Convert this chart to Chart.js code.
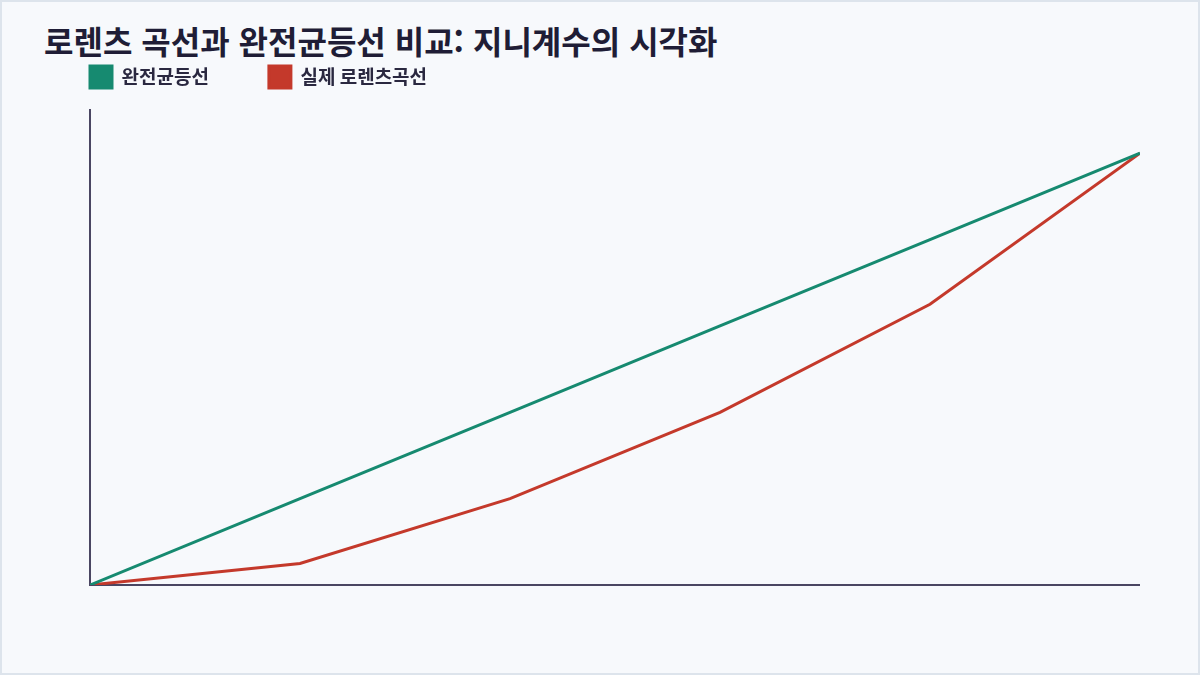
<!DOCTYPE html>
<html lang="ko">
<head>
<meta charset="utf-8">
<script src="https://cdn.jsdelivr.net/npm/chart.js@4/dist/chart.umd.min.js"></script>
<style>
  html, body { margin: 0; padding: 0; }
  body { position: relative; width: 1200px; height: 675px; overflow: hidden; font-family: "Noto Sans CJK KR", "Noto Sans", sans-serif; }
  .frame {
    position: absolute; left: 0; top: 0; width: 1200px; height: 675px; box-sizing: border-box;
    border: 2px solid #dde4ec; background: #f7f9fc;
  }
  h1 {
    position: absolute; left: 44px; top: 21px; margin: 0;
    font-size: 32px; font-weight: 700; color: #1f1d36; line-height: 1.2;
  }
  .chart-box { position: absolute; left: 30px; top: 6px; width: 1110px; height: 589px; }
</style>
</head>
<body>
<div class="frame"></div>
<h1>로렌츠 곡선과 완전균등선 비교: 지니계수의 시각화</h1>
<div class="chart-box"><canvas id="lorenzChart"></canvas></div>
<script>
// Cumulative population share (%)
const populationShare = [0, 20, 40, 60, 80, 100];
// Perfect equality line
const equalityShare = [0, 20, 40, 60, 80, 100];
// Actual Lorenz curve, cumulative income share (%)
const lorenzShare = [0, 5, 20, 40, 65, 100];

const seriesLabels = ['완전균등선', '실제 로렌츠곡선'];
const AXIS_COLOR = '#4a4662';

function toPoints(values) {
    return populationShare.map((x, i) => ({ x: x, y: values[i] }));
}

// Push the plot area a bit further below the legend
const legendGap = {
    id: 'legendGap',
    beforeInit(chart) {
        const fit = chart.legend.fit;
        chart.legend.fit = function () {
            fit.call(this);
            this.height += 12;
        };
    }
};

const ctx = document.getElementById('lorenzChart').getContext('2d');
new Chart(ctx, {
    type: 'line',
    data: {
        datasets: [
            {
                label: seriesLabels[0],
                data: toPoints(equalityShare),
                borderColor: '#168a70',
                backgroundColor: '#168a70',
                borderWidth: 3,
                pointRadius: 0,
                tension: 0
            },
            {
                label: seriesLabels[1],
                data: toPoints(lorenzShare),
                borderColor: '#c4392b',
                backgroundColor: '#c4392b',
                borderWidth: 3,
                pointRadius: 0,
                tension: 0
            }
        ]
    },
    options: {
        responsive: true,
        maintainAspectRatio: false,
        animation: false,
        layout: { padding: 0 },
        plugins: {
            legend: {
                position: 'top',
                align: 'start',
                labels: {
                    boxWidth: 22,
                    boxHeight: 22,
                    padding: 60,
                    color: '#2a2840',
                    font: { family: '"Noto Sans CJK KR", sans-serif', size: 19, weight: '600' }
                }
            },
            tooltip: { enabled: false }
        },
        scales: {
            x: {
                type: 'linear',
                min: 0,
                max: 100,
                ticks: { display: false },
                grid: { display: false },
                border: { color: AXIS_COLOR, width: 2 },
                afterFit(scale) { scale.height = 10; }
            },
            y: {
                min: 0,
                max: 110,
                ticks: { display: false },
                grid: { display: false },
                border: { color: AXIS_COLOR, width: 2 },
                afterFit(scale) { scale.width = 60; }
            }
        }
    },
    plugins: [legendGap]
});
</script>
</body>
</html>
